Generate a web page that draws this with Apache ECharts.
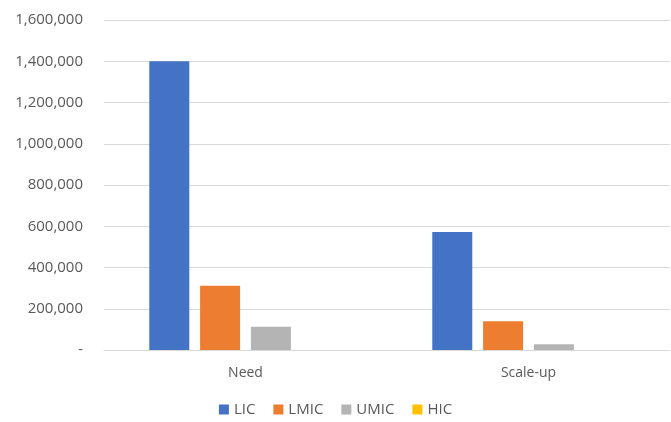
<!DOCTYPE html>
<html>
<head>
<meta charset="utf-8">
<script src="https://cdn.jsdelivr.net/npm/echarts@6/dist/echarts.min.js"></script>
<style>
  html, body { margin: 0; padding: 0; background: #fff; }
  #chart { width: 671px; height: 422px; }
</style>
</head>
<body>
<div id="chart"></div>
<script>
// categories and values
var categories = ['Need', 'Scale-up'];
var lic = [1400000, 572000];
var lmic = [311000, 140000];
var umic = [113000, 28000];
var hic = [0, 0];
var yTicks = { min: 0, max: 1600000, interval: 200000 };

var chart = echarts.init(document.getElementById('chart'));

function fmt(v) {
    if (v === 0) return '-';
    return v.toString().replace(/\B(?=(\d{3})+(?!\d))/g, ',');
}

var font = 'Open Sans, Liberation Sans, sans-serif';

var option = {
    animation: false,
    color: ['#4472C4', '#ED7D31', '#B4B4B4', '#FFC000'],
    grid: { left: 104, right: 1, top: 20, bottom: 72 },
    legend: {
        bottom: 0,
        itemWidth: 10,
        itemHeight: 10,
        itemGap: 18,
        icon: 'rect',
        textStyle: { color: '#595959', fontSize: 15, fontFamily: font },
        data: ['LIC', 'LMIC', 'UMIC', 'HIC']
    },
    xAxis: {
        type: 'category',
        data: categories,
        axisTick: { show: false },
        axisLine: { lineStyle: { color: '#D9D9D9' } },
        axisLabel: { color: '#595959', fontSize: 14, fontFamily: font, margin: 16 }
    },
    yAxis: {
        type: 'value',
        min: yTicks.min,
        max: yTicks.max,
        interval: yTicks.interval,
        axisLine: { show: false },
        axisTick: { show: false },
        splitLine: { lineStyle: { color: '#D9D9D9' } },
        axisLabel: { color: '#595959', fontSize: 15, fontFamily: font, margin: 21, formatter: fmt }
    },
    series: [
        { name: 'LIC', type: 'bar', data: lic, barGap: '27%', barCategoryGap: '32%' },
        { name: 'LMIC', type: 'bar', data: lmic },
        { name: 'UMIC', type: 'bar', data: umic },
        { name: 'HIC', type: 'bar', data: hic }
    ]
};

chart.setOption(option);
</script>
</body>
</html>
